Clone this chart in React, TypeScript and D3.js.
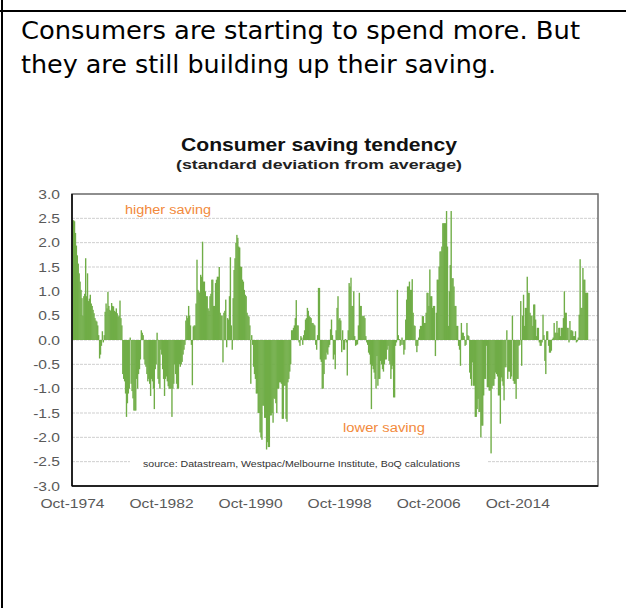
import React from "react";
import * as d3 from "d3";

const HEADLINE = [
  "Consumers are starting to spend more. But",
  "they are still building up their saving.",
];
const TITLE = "Consumer saving tendency";
const SUBTITLE = "(standard deviation from average)";
const SOURCE = "source:  Datastream, Westpac/Melbourne  Institute, BoQ calculations";
const HIGH_LABEL = "higher saving";
const LOW_LABEL = "lower saving";

const Y_TICKS = [3.0, 2.5, 2.0, 1.5, 1.0, 0.5, 0.0, -0.5, -1.0, -1.5, -2.0, -2.5, -3.0];
const X_TICK_LABELS = ["Oct-1974", "Oct-1982", "Oct-1990", "Oct-1998", "Oct-2006", "Oct-2014"];

// monthly categories, Oct-1974 .. Dec-2021
const fmt = d3.timeFormat("%b-%Y");
const CATEGORIES = d3.timeMonth
  .range(new Date(1974, 9, 1), new Date(2022, 0, 1))
  .map((d) => fmt(d));

// consumer saving tendency, standard deviations from average (monthly from Oct-1974)
const SAVING_1974_1977 = [
  2.46, 2.46, 2.44, 2.2, 1.94, 1.74, 1.57, 1.37, 1.2, 1.03, 0.86, 0.5, 0.9, 0.95, 1.68, 0.9, 1.37, 0.8, 0.85,
  0.93, 0.75, 0.7, 0.62, 0.55, 0.45, 0.4, 0.38, 0.3, 0.1,
];
const SAVING_1977_1979 = [
  -0.38, -0.3, -0.12, 0.18, -0.05, 0.1, 0.58, 0.75, 0.65, 0.99, 0.7, 0.62, 0.6, 0.76, 0.7, 0.69, 0.6, 0.58,
  0.65, 0.55, 0.48, 0.5, 0.81, 0.45, 0.3,
];
const SAVING_1979_1984 = [
  -0.7, -0.8, -0.85, -1.1, -1.58, -1.3, -1.1, -1.0, 0.05, -0.9, -1.05, -1.2, -1.45, -1.45, -1.45, -0.8, -1.0,
  -0.7, -0.6, -0.4, 0.2, 0.15, 0.1, -0.4, -0.5, -0.55, -0.7, -0.85, -0.8, -0.9, -1.15, -0.8, -0.85, -1.0,
  -1.42, -0.6, -0.5, 0.15, -0.8, -0.9, -1.0, -0.2, -0.3, -0.6, -0.8, -1.15, -0.8, -0.75, -0.85, -0.95, -1.0,
  -1.0, -1.0, -1.58, -1.0, -0.9, -0.5, -0.7, -0.9, -1.0, -1.0, -0.5, -0.55, -0.5, -0.45, -0.3, -0.2, -0.1,
];
const SAVING_1984_1995 = [
  0.4, 0.5, 0.45, 0.7, 0.5, 0.3, -0.1, -0.93, 0.28, 0.3, 0.3, 0.75, 1.65, 1.03, 1.0, 0.97, 1.34, 1.3, 2.02,
  1.2, 1.2, 1.0, 0.9, 0.9, 0.65, 0.6, 0.9, 0.95, 1.24, 1.24, 0.7, 0.7, 1.17, 1.24, 1.3, 1.3, 1.5, 0.56, 0.5,
  0.5, -0.46, 0.56, 0.6, 0.83, -0.15, 0.45, 0.42, 0.9, 1.7, 0.3, -0.2, 0.86, 1.44, 1.68, 2.0, 2.16, 2.1, 1.92,
  1.9, 1.51, 1.5, 1.24, 1.2, 1.03, 0.93, 0.9, 0.56, 0.5, 0.48, 0.3, -0.9, 0.1, -0.1, -0.55, -0.7, -0.8, -1.1,
  -1.1, -1.5, -1.5, -1.9, -2.0, -2.05, -1.35, -1.35, -1.6, -1.6, -2.25, -2.1, -2.2, -2.2, -1.55, -1.55, -1.5,
  -1.7, -1.2, -1.21, -1.3, -1.5, -1.0, -1.0, -0.87, -0.87, -0.9, -1.62, -1.62, -0.94, -0.94, -1.62, -1.68,
  -0.87, -0.8, -0.65, -0.5, 0.2, 0.2, 0.25, 0.3, 0.45, 0.82, 0.3, 0.3, -0.05,
];
const SAVING_1995_2006 = [
  -0.12, 0.08, 0.05, -0.1, 0.1, 0.2, 0.42, 0.45, 0.66, 0.6, 0.49, 0.47, 0.45, 0.35, 0.35, 0.32, 0.3, -0.1,
  -0.2, 0.1, 1.07, 1.07, -0.4, -0.45, -1.0, -1.0, -0.7, -0.4, -0.4, -0.26, -0.3, -0.15, -0.1, 0.22, 0.42, 0.1,
  -0.4, -0.3, -0.6, 0.2, 0.66, 0.9, 0.42, 0.45, 0.4, -0.25, 0.2, -0.2, -0.2, 0.02, -0.05, -0.73, 0.2, 1.17,
  1.1, 1.28, 0.7, 0.7, 1.0, 0.08, -0.12, -0.1, -0.09, 0.3, 0.97, 0.7, 0.7, 0.49, 0.49, 0.5, 0.45, 0.08, -0.05,
  -0.1, -0.26, -0.3, -0.5, -1.42, -0.53, -0.6, -0.67, -0.8, -1.0, -0.33, -0.94, -0.8, -0.8, -0.43, -0.5, -0.6,
  -0.65, -0.5, -0.4, -0.4, -0.2, -0.12, -0.43, -0.5, -0.8, -0.6, -0.53, -1.18, -1.18, -0.12, -0.05, 1.03, 0.1,
  0.02, -0.12, -0.1, 0.05, -0.1, -0.3, -0.2, 0.42, 0.83, 1.1, 1.1, 1.2, 1.03, 1.03, 1.25, 0.56, 0.3, 0.29,
  -0.12, -0.25, -0.12, 0.05, 0.22, 0.29, 0.29, 0.49, 0.49, 0.35, 0.35,
];
const SAVING_2006_2021 = [
  0.56, 0.97, 0.97, 0.7, 1.45, 0.9, 0.9, 0.66, 0.7, 0.7, -0.33, 0.56, 1.24, 1.24, 1.51, 1.82, 1.82, 1.92, 2.4,
  2.4, 2.4, 2.4, 2.65, 1.92, 0.29, 1.0, 1.54, 2.65, 1.27, 1.27, 1.1, 0.7, 0.7, 0.29, 0.29, -0.12, -0.2, -0.53,
  0.35, 0.15, 0.15, 0.08, -0.12, -0.1, 0.35, 0.1, 0.08, -0.67, -0.8, -0.94, -0.46, -0.94, -0.94, -1.58, -1.58,
  -1.42, -1.21, -1.48, -1.48, -2.0, -1.76, -1.76, -1.14, -0.8, -0.8, -0.12, -0.97, -0.97, -1.04, -1.04, -2.33,
  -1.0, -0.94, -0.94, -0.8, -0.67, -0.7, -0.75, -1.14, -1.14, -1.72, -0.77, -0.85, -0.94, -1.24, -0.56, -0.56,
  0.2, -0.8, -0.65, -0.65, -0.8, -0.75, 0.5, -0.84, -0.9, -0.9, -1.21, -0.8, -0.8, -0.12, -0.1, 0.8, -0.53,
  0.5, 0.93, 0.29, 0.66, 0.66, 1.3, 0.97, 0.97, 0.56, 0.5, 0.5, 0.29, 0.73, 0.73, 0.42, 0.08, 0.25, 0.25,
  -0.05, -0.12, -0.12, -0.05, 0.52, 0.1, -0.43, -0.7, 0.18, 0.18, -0.12, -0.26, -0.26, -0.22, 0.02, 0.05, 0.35,
  0.15, 0.15, 0.39, 0.15, 0.25, 0.25, 0.08, 0.25, 0.25, 0.45, 1.0, 0.56, 0.56, 0.25, 0.25, -0.05, 0.39, 0.2,
  0.2, 0.18, 0.08, 0.08, 0.18, -0.05, -0.03, 0.05, 0.52, 1.66, 0.66, 0.66, 1.48, 1.24, 1.24, 0.97, 0.97, 0.97,
];
const SAVING = [
  ...SAVING_1974_1977,
  ...SAVING_1977_1979,
  ...SAVING_1979_1984,
  ...SAVING_1984_1995,
  ...SAVING_1995_2006,
  ...SAVING_2006_2021,
];

const W = 626;
const H = 608;
const PLOT = { left: 72, right: 598, top: 194, bottom: 486 };
const BAR_COLOR = "#70ad47";
const LABEL_COLOR = "#595959";
const ORANGE = "#f28a3c";
const CHART_FONT = "'Liberation Sans', Arial, sans-serif";

export default function App() {
  const x = d3.scaleBand<string>().domain(CATEGORIES).range([PLOT.left, PLOT.right]).padding(0);
  const y = d3.scaleLinear().domain([-3, 3]).range([PLOT.bottom, PLOT.top]);
  const bw = x.bandwidth();
  const y0 = y(0);
  const data = SAVING.map((v, i) => ({ cat: CATEGORIES[i], v }));

  return (
    <svg
      width={W}
      height={H}
      style={{ position: "absolute", left: 0, top: 0, background: "#fff" }}
    >
      <rect x={0} y={0} width={W} height={H} fill="#fff" />
      {/* page frame */}
      <line x1={2} y1={0} x2={2} y2={H} stroke="#000" strokeWidth={2} />
      <line x1={0} y1={11} x2={W} y2={11} stroke="#000" strokeWidth={2} />

      {/* headline */}
      {HEADLINE.map((t, i) => (
        <text
          key={i}
          x={21}
          y={39 + i * 34}
          fontFamily="'DejaVu Sans', Verdana, sans-serif"
          fontSize={25}
          fill="#000"
          textLength={i === 0 ? 559 : 475}
          lengthAdjust="spacingAndGlyphs"
        >
          {t}
        </text>
      ))}

      {/* chart title */}
      <text
        x={181}
        y={151}
        fontFamily={CHART_FONT}
        fontWeight="bold"
        fontSize={18}
        fill="#111"
        textLength={276}
        lengthAdjust="spacingAndGlyphs"
      >
        {TITLE}
      </text>
      <text
        x={176}
        y={168.5}
        fontFamily={CHART_FONT}
        fontWeight="bold"
        fontSize={13.5}
        fill="#222"
        textLength={286}
        lengthAdjust="spacingAndGlyphs"
      >
        {SUBTITLE}
      </text>

      {/* grid */}
      {Y_TICKS.filter((t) => Math.abs(t) < 3).map((t) => (
        <line
          key={t}
          x1={PLOT.left}
          x2={PLOT.right}
          y1={y(t)}
          y2={y(t)}
          stroke="#cfcfcf"
          strokeWidth={1}
          strokeDasharray="3,1"
        />
      ))}

      {/* source box */}
      <rect x={130} y={456} width={357} height={13} fill="#fff" />
      <text
        x={143}
        y={467}
        fontFamily={CHART_FONT}
        fontSize={9}
        fill="#333"
        textLength={317}
        lengthAdjust="spacingAndGlyphs"
      >
        {SOURCE}
      </text>

      {/* bars */}
      <g>
        {data.map((d) => (
          <rect
            key={d.cat}
            x={x(d.cat)}
            width={bw + 0.45}
            y={Math.min(y(d.v), y0)}
            height={Math.abs(y(d.v) - y0)}
            fill={BAR_COLOR}
          />
        ))}
      </g>

      {/* frame */}
      <rect
        x={PLOT.left}
        y={PLOT.top}
        width={PLOT.right - PLOT.left}
        height={PLOT.bottom - PLOT.top}
        fill="none"
        stroke="#6a6a6a"
        strokeWidth={1.5}
      />
      <line x1={PLOT.left} x2={PLOT.left} y1={PLOT.top} y2={PLOT.bottom} stroke="#000" strokeWidth={1.5} />
      <line x1={PLOT.left} x2={PLOT.right} y1={PLOT.bottom} y2={PLOT.bottom} stroke="#000" strokeWidth={1.5} />

      {/* y labels */}
      {Y_TICKS.map((t) => (
        <text
          key={t}
          transform={`translate(60,${y(t) + 4.5}) scale(1.2,1)`}
          textAnchor="end"
          fontFamily={CHART_FONT}
          fontSize={13}
          fill={LABEL_COLOR}
        >
          {d3.format(".1f")(t).replace("−", "-")}
        </text>
      ))}

      {/* x labels */}
      {X_TICK_LABELS.map((t) => (
        <text
          key={t}
          transform={`translate(${(x(t) ?? 0) + bw / 2},508) scale(1.2,1)`}
          textAnchor="middle"
          fontFamily={CHART_FONT}
          fontSize={13}
          fill={LABEL_COLOR}
        >
          {t}
        </text>
      ))}

      {/* annotations */}
      <text
        x={125}
        y={213.5}
        fontFamily={CHART_FONT}
        fontSize={12.5}
        fill={ORANGE}
        textLength={86}
        lengthAdjust="spacingAndGlyphs"
      >
        {HIGH_LABEL}
      </text>
      <text
        x={343}
        y={431.5}
        fontFamily={CHART_FONT}
        fontSize={12.5}
        fill={ORANGE}
        textLength={82}
        lengthAdjust="spacingAndGlyphs"
      >
        {LOW_LABEL}
      </text>
    </svg>
  );
}
